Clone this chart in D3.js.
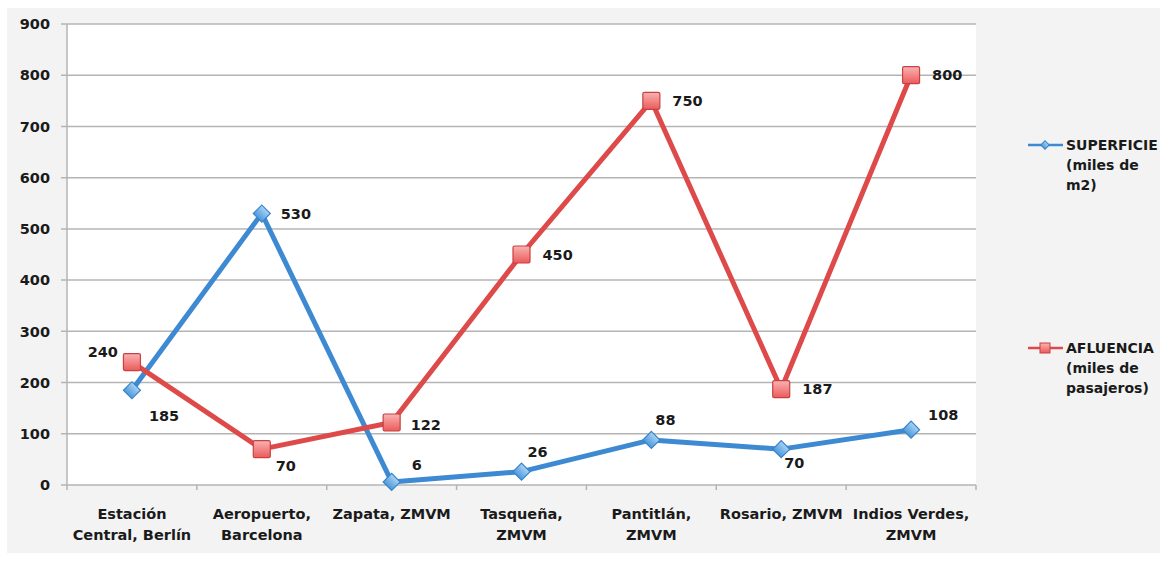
<!DOCTYPE html>
<html>
<head>
<meta charset="utf-8">
<script src="https://cdnjs.cloudflare.com/ajax/libs/d3/7.8.5/d3.min.js"></script>
<style>
  html, body { margin: 0; padding: 0; background: #ffffff; }
  svg text { font-family: "DejaVu Sans", sans-serif; font-weight: bold; fill: #1a1a1a; }
</style>
</head>
<body>
<svg id="chart" width="1163" height="561"></svg>
<script>
// Stations compared
const categories = [
  ["Estación", "Central, Berlín"],
  ["Aeropuerto,", "Barcelona"],
  ["Zapata, ZMVM"],
  ["Tasqueña,", "ZMVM"],
  ["Pantitlán,", "ZMVM"],
  ["Rosario, ZMVM"],
  ["Indios Verdes,", "ZMVM"]
];
// Floor area (thousands of m2)
const superficie = [185, 530, 6, 26, 88, 70, 108];
// Daily ridership (thousands of passengers)
const afluencia = [240, 70, 122, 450, 750, 187, 800];
const yTicks = [0, 100, 200, 300, 400, 500, 600, 700, 800, 900];
const legendSuperficie = ["SUPERFICIE", "(miles de", "m2)"];
const legendAfluencia = ["AFLUENCIA", "(miles de", "pasajeros)"];

const svg = d3.select("#chart");
const plot = { left: 67, right: 976, top: 24, bottom: 485 };

// Panel background
svg.append("rect").attr("x", 7).attr("y", 8).attr("width", 1153).attr("height", 545)
  .attr("fill", "#f3f3f3");
svg.append("rect").attr("x", plot.left).attr("y", plot.top)
  .attr("width", plot.right - plot.left).attr("height", plot.bottom - plot.top)
  .attr("fill", "#ffffff");

const x = d3.scaleBand().domain(d3.range(categories.length))
  .range([plot.left, plot.right]).padding(0);
const y = d3.scaleLinear().domain([0, 900]).range([plot.bottom, plot.top]);
const cx = i => x(i) + x.bandwidth() / 2;

// Horizontal gridlines
svg.append("g").selectAll("line").data(yTicks).join("line")
  .attr("x1", plot.left - 6).attr("x2", plot.right)
  .attr("y1", d => y(d)).attr("y2", d => y(d))
  .attr("stroke", "#b4b4b4").attr("stroke-width", 1.5);

// Y axis line
svg.append("line").attr("x1", plot.left).attr("x2", plot.left)
  .attr("y1", plot.top).attr("y2", plot.bottom)
  .attr("stroke", "#b4b4b4").attr("stroke-width", 1.5);

// Y tick labels
svg.append("g").selectAll("text").data(yTicks).join("text")
  .attr("x", 50).attr("y", d => y(d)).attr("dy", "0.36em")
  .attr("text-anchor", "end").attr("font-size", 14.5).text(d => d);

// X ticks
svg.append("g").selectAll("line").data(d3.range(categories.length + 1)).join("line")
  .attr("x1", i => i < categories.length ? x(i) : plot.right)
  .attr("x2", i => i < categories.length ? x(i) : plot.right)
  .attr("y1", plot.bottom).attr("y2", plot.bottom + 5)
  .attr("stroke", "#b4b4b4").attr("stroke-width", 1.5);

// Category labels
const catG = svg.append("g").selectAll("text").data(categories).join("text")
  .attr("text-anchor", "middle").attr("font-size", 14.5)
  .attr("transform", (d, i) => `translate(${cx(i)},${519})`);
catG.selectAll("tspan").data(d => d).join("tspan")
  .attr("x", 0).attr("dy", (d, j) => j === 0 ? 0 : 21).text(d => d);

const blue = "#3d8ad2", red = "#de4a4a";
const line = d3.line().x((d, i) => cx(i)).y(d => y(d));

// Series lines
svg.append("path").datum(superficie).attr("d", line)
  .attr("fill", "none").attr("stroke", blue).attr("stroke-width", 5)
  .attr("stroke-linejoin", "round");
svg.append("path").datum(afluencia).attr("d", line)
  .attr("fill", "none").attr("stroke", red).attr("stroke-width", 5)
  .attr("stroke-linejoin", "round");

// Marker gradients
const defs = svg.append("defs");
const gb = defs.append("linearGradient").attr("id", "gBlue").attr("x1", 0).attr("y1", 0).attr("x2", 0).attr("y2", 1);
gb.append("stop").attr("offset", "0%").attr("stop-color", "#a9d3f5");
gb.append("stop").attr("offset", "100%").attr("stop-color", "#4b98dc");
const gr = defs.append("linearGradient").attr("id", "gRed").attr("x1", 0).attr("y1", 0).attr("x2", 0).attr("y2", 1);
gr.append("stop").attr("offset", "0%").attr("stop-color", "#f9b3b3");
gr.append("stop").attr("offset", "100%").attr("stop-color", "#ec5a5a");

// Blue diamonds
svg.append("g").selectAll("path").data(superficie).join("path")
  .attr("d", d3.symbol().type(d3.symbolSquare).size(145))
  .attr("transform", (d, i) => `translate(${cx(i)},${y(d)}) rotate(45)`)
  .attr("fill", "url(#gBlue)").attr("stroke", "#3a84c8").attr("stroke-width", 1.2);

// Red squares
svg.append("g").selectAll("rect").data(afluencia).join("rect")
  .attr("x", (d, i) => cx(i) - 8.5).attr("y", d => y(d) - 8.5)
  .attr("width", 17).attr("height", 17).attr("rx", 1.5)
  .attr("fill", "url(#gRed)").attr("stroke", "#c84040").attr("stroke-width", 1.2);

// Value labels: offsets and anchors per point
const supOff = [[17, 26, "start"], [19, 0, "start"], [20, -17, "start"], [6, -20, "start"], [4, -20, "start"], [3, 14, "start"], [17, -15, "start"]];
const aflOff = [[-14, -10, "end"], [14, 17, "start"], [19, 2, "start"], [21, 0, "start"], [21, 0, "start"], [21, 0, "start"], [21, 0, "start"]];
svg.append("g").selectAll("text").data(superficie).join("text")
  .attr("x", (d, i) => cx(i) + supOff[i][0]).attr("y", (d, i) => y(d) + supOff[i][1])
  .attr("text-anchor", (d, i) => supOff[i][2])
  .attr("dy", "0.36em").attr("font-size", 14.5).text(d => d);
svg.append("g").selectAll("text").data(afluencia).join("text")
  .attr("x", (d, i) => cx(i) + aflOff[i][0]).attr("y", (d, i) => y(d) + aflOff[i][1])
  .attr("text-anchor", (d, i) => aflOff[i][2])
  .attr("dy", "0.36em").attr("font-size", 14.5).text(d => d);

// Legend
function legendItem(ly, color, lines, kind) {
  const g = svg.append("g");
  g.append("line").attr("x1", 1028).attr("x2", 1063).attr("y1", ly).attr("y2", ly)
    .attr("stroke", color).attr("stroke-width", 2.5);
  if (kind === "diamond") {
    g.append("path").attr("d", d3.symbol().type(d3.symbolSquare).size(36))
      .attr("transform", `translate(1045,${ly}) rotate(45)`)
      .attr("fill", "url(#gBlue)").attr("stroke", "#3a84c8").attr("stroke-width", 1);
  } else {
    g.append("rect").attr("x", 1040).attr("y", ly - 5).attr("width", 10).attr("height", 10)
      .attr("fill", "url(#gRed)").attr("stroke", "#c84040").attr("stroke-width", 1);
  }
  g.append("text").attr("x", 1066).attr("y", ly)
    .attr("font-size", 14).selectAll("tspan").data(lines).join("tspan")
    .attr("x", 1066).attr("dy", (d, j) => j === 0 ? "0.36em" : 20).text(d => d);
}
legendItem(145, blue, legendSuperficie, "diamond");
legendItem(348, red, legendAfluencia, "square");
</script>
</body>
</html>
